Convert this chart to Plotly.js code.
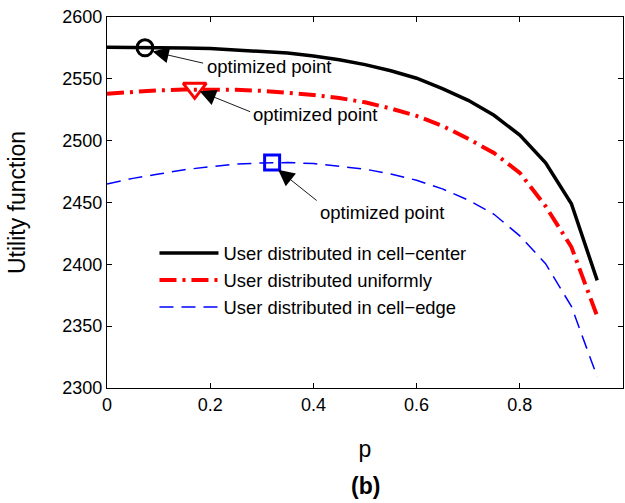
<!DOCTYPE html>
<html>
<head>
<meta charset="utf-8">
<script src="https://cdn.plot.ly/plotly-3.0.1.min.js"></script>
<style>html,body{margin:0;padding:0;background:#fff;}</style>
</head>
<body>
<div id="chart" style="width:625px;height:503px;"></div>
<script>
const p = [0, 0.05, 0.1, 0.15, 0.2, 0.25, 0.3, 0.35, 0.4, 0.45, 0.5, 0.55, 0.6, 0.65, 0.7, 0.75, 0.8, 0.85, 0.9, 0.95];
const cellCenter = [2575.5, 2575.5, 2575.3, 2575, 2574.5, 2573.5, 2572.3, 2570.8, 2568.5, 2565.5, 2561.5, 2556.5, 2550.5, 2542, 2532.6, 2520.5, 2504.5, 2482, 2449, 2387];
const uniform = [2538, 2539.5, 2540.7, 2541.3, 2541.5, 2541.1, 2540.3, 2539, 2537, 2534.5, 2531, 2526, 2520, 2512, 2501.5, 2490, 2474, 2447, 2414, 2358];
const cellEdge = [2465, 2469.5, 2473, 2476.5, 2479, 2481, 2482, 2482.3, 2481.5, 2479.5, 2477, 2473, 2468, 2461, 2452, 2440.5, 2423, 2400.5, 2366, 2309];
const seriesNames = ['User distributed in cell\u2212center', 'User distributed uniformly', 'User distributed in cell\u2212edge'];
const optP = [0.0736, 0.17, 0.32];
const optU = [2575.1, 2542.3, 2482.3];
const xTicks = [0, 0.2, 0.4, 0.6, 0.8, 1];
const xTickText = ['0', '0.2', '0.4', '0.6', '0.8', '1'];
const yTicks = [2300, 2350, 2400, 2450, 2500, 2550, 2600];
const annText = 'optimized point';

const FONT = 'Liberation Sans, Arial, Helvetica, sans-serif';

const traces = [
  {x: p, y: cellCenter, mode: 'lines', name: seriesNames[0], legendgroup: 'a',
   line: {color: '#000000', width: 3.5}},
  {x: p, y: uniform, mode: 'lines', name: seriesNames[1], legendgroup: 'b',
   line: {color: '#ff0000', width: 4, dash: '17px,6px,3px,6px'}},
  {x: p, y: cellEdge, mode: 'lines', name: seriesNames[2], legendgroup: 'c',
   line: {color: '#0000ff', width: 1.5, dash: '14px,8px'}},
  {x: [optP[0]], y: [optU[0]], mode: 'markers', showlegend: false,
   marker: {symbol: 'circle-open', size: 16, color: '#000000', line: {width: 3, color: '#000000'}}},
  {x: [optP[1]], y: [optU[1]], mode: 'markers', showlegend: false,
   marker: {symbol: 'triangle-down-open', size: 20, color: '#ff0000', line: {width: 3, color: '#ff0000'}}},
  {x: [optP[2]], y: [optU[2]], mode: 'markers', showlegend: false,
   marker: {symbol: 'square-open', size: 15, color: '#0000ff', line: {width: 3, color: '#0000ff'}}}
];

function arrow(x, y, ax, ay) {
  return {x: x, y: y, xref: 'x', yref: 'y', ax: ax, ay: ay, text: '', showarrow: true,
          arrowhead: 2, arrowsize: 3.6, arrowwidth: 0.9, arrowcolor: '#000000'};
}
function label(x, y) {
  return {x: x, y: y, xref: 'x', yref: 'y', text: annText, showarrow: false,
          xanchor: 'left', yanchor: 'middle', font: {family: FONT, size: 18.5, color: '#000000'}};
}

const layout = {
  width: 625, height: 503,
  margin: {l: 107, r: 2, t: 17, b: 115},
  paper_bgcolor: '#ffffff', plot_bgcolor: '#ffffff',
  font: {family: FONT, size: 18, color: '#000000'},
  xaxis: {
    range: [0, 1], tickvals: xTicks, ticktext: xTickText,
    ticks: 'inside', ticklen: 5, tickwidth: 1, tickcolor: '#000000',
    showline: true, linecolor: '#000000', linewidth: 1.2, mirror: 'ticks',
    showgrid: false, zeroline: false,
    tickfont: {family: FONT, size: 18, color: '#000000'},
    title: {text: 'p', font: {family: FONT, size: 23, color: '#000000'}, standoff: 27}
  },
  yaxis: {
    range: [2300, 2600], tickvals: yTicks,
    ticks: 'inside', ticklen: 5, tickwidth: 1, tickcolor: '#000000',
    showline: true, linecolor: '#000000', linewidth: 1.2, mirror: 'ticks',
    showgrid: false, zeroline: false,
    tickfont: {family: FONT, size: 18, color: '#000000'},
    title: {text: 'Utility function', font: {family: FONT, size: 23, color: '#000000'}, standoff: 30}
  },
  showlegend: true,
  legend: {
    x: 0.092, y: 0.4135, xanchor: 'left', yanchor: 'top',
    bgcolor: 'rgba(255,255,255,0)', borderwidth: 0,
    itemwidth: 59, tracegroupgap: 0, traceorder: 'grouped',
    font: {family: FONT, size: 18.4, color: '#000000'}
  },
  annotations: [
    arrow(0.0884, 2572.1, 52, 12),
    label(0.1893, 2560.2),
    arrow(0.1796, 2539.9, 52, 21),
    label(0.28, 2521),
    arrow(0.3317, 2476.5, 40, 32),
    label(0.4087, 2441.7),
    {x: 0.5, y: -0.265, xref: 'paper', yref: 'paper', text: '<b>(b)</b>', showarrow: false,
     xanchor: 'center', yanchor: 'middle', font: {family: FONT, size: 23, color: '#000000'}}
  ]
};

Plotly.newPlot('chart', traces, layout, {displayModeBar: false, staticPlot: true});
</script>
</body>
</html>
